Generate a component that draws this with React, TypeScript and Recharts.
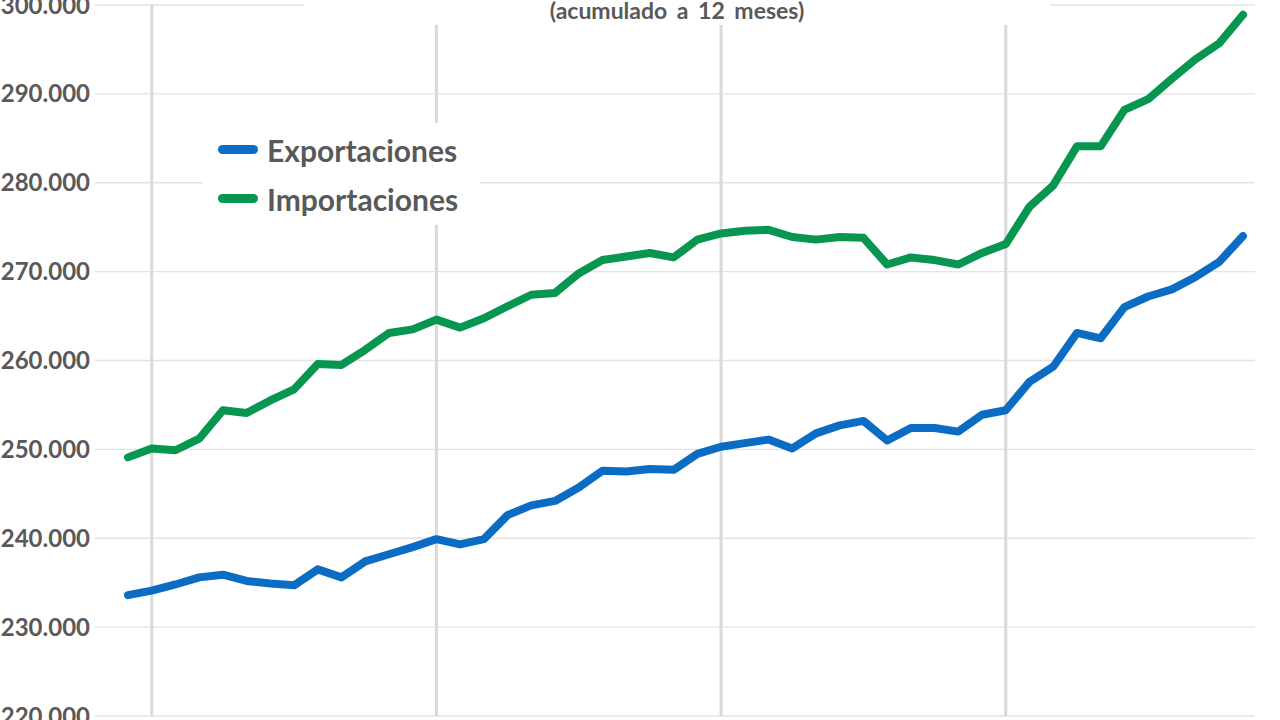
import { LineChart, Line, XAxis, YAxis, CartesianGrid, ReferenceLine, Legend } from 'recharts'

// meses (sin año visible en el gráfico)
const periods = [
  'dic-0', 'ene-1', 'feb-1', 'mar-1', 'abr-1', 'may-1', 'jun-1', 'jul-1', 'ago-1', 'sep-1', 'oct-1', 'nov-1',
  'dic-1', 'ene-2', 'feb-2', 'mar-2', 'abr-2', 'may-2', 'jun-2', 'jul-2', 'ago-2', 'sep-2', 'oct-2', 'nov-2',
  'dic-2', 'ene-3', 'feb-3', 'mar-3', 'abr-3', 'may-3', 'jun-3', 'jul-3', 'ago-3', 'sep-3', 'oct-3', 'nov-3',
  'dic-3', 'ene-4', 'feb-4', 'mar-4', 'abr-4', 'may-4', 'jun-4', 'jul-4', 'ago-4', 'sep-4', 'oct-4', 'nov-4',
]

const exportaciones = [
  233600, 234100, 234800, 235600, 235900, 235200, 234900, 234700, 236500, 235600, 237400, 238200,
  239000, 239900, 239300, 239900, 242600, 243700, 244200, 245700, 247600, 247500, 247800, 247700,
  249500, 250300, 250700, 251100, 250100, 251800, 252700, 253200, 251000, 252400, 252400, 252000,
  253900, 254400, 257600, 259300, 263100, 262500, 266000, 267200, 268000, 269400, 271100, 274000,
]

const importaciones = [
  249100, 250100, 249900, 251200, 254400, 254100, 255500, 256750, 259600, 259500, 261200, 263100,
  263500, 264600, 263700, 264750, 266100, 267400, 267600, 269800, 271300, 271700, 272100, 271600,
  273600, 274300, 274600, 274700, 273900, 273600, 273900, 273800, 270800, 271600, 271300, 270800,
  272100, 273100, 277300, 279700, 284100, 284100, 288200, 289400, 291700, 293900, 295700, 298900,
]

const yTicks = [220000, 230000, 240000, 250000, 260000, 270000, 280000, 290000, 300000]
const yearMarks = ['ene-1', 'ene-2', 'ene-3', 'ene-4']

const BLUE = '#0b6cc4'
const GREEN = '#07964f'
const TEXT = '#595959'
const FONT = 'Lato, "Open Sans", sans-serif'

const data = periods.map((p, i) => ({ p, exp: exportaciones[i], imp: importaciones[i] }))

const fmt = (v: number) => String(v).replace(/\B(?=(\d{3})+(?!\d))/g, '.')

const LegendBox = () => (
  <div style={{ background: '#fff', width: '100%', height: '100%', boxSizing: 'border-box', paddingTop: 2 }}>
    {[
      { name: 'Exportaciones', color: BLUE },
      { name: 'Importaciones', color: GREEN },
    ].map((it) => (
      <div key={it.name} style={{ display: 'flex', alignItems: 'center', height: 49 }}>
        <span style={{ display: 'inline-block', width: 40, height: 9, borderRadius: 5, background: it.color, marginLeft: 15, marginRight: 9, flexShrink: 0 }} />
        <span style={{ fontFamily: FONT, fontWeight: 700, fontSize: 30, color: TEXT, whiteSpace: 'nowrap' }}>{it.name}</span>
      </div>
    ))}
  </div>
)

export default function App() {
  return (
    <div style={{ position: 'absolute', left: 0, top: 0, width: 1280, height: 720, background: '#fff', overflow: 'hidden' }}>
      <LineChart width={1280} height={720} data={data} margin={{ top: 5, right: 25, bottom: 4, left: 0 }}>
        <CartesianGrid vertical={false} stroke="#e3e3e3" strokeWidth={1.3} />
        <XAxis dataKey="p" hide padding={{ left: 33, right: 12 }} />
        <YAxis
          width={95}
          domain={[220000, 300000]}
          ticks={yTicks}
          interval={0}
          tickFormatter={fmt}
          axisLine={false}
          tickLine={false}
          tickSize={0}
          tickMargin={5}
          tick={{ fill: TEXT, fontSize: 24, fontWeight: 700, fontFamily: FONT }}
        />
        {yearMarks.map((m) => (
          <ReferenceLine key={m} x={m} stroke="#d9d9d9" strokeWidth={3} />
        ))}
        <Legend
          layout="horizontal"
          verticalAlign="middle"
          align="center"
          content={<LegendBox />}
          wrapperStyle={{ left: 203, top: 123, width: 277, height: 102 }}
        />
        <Line type="linear" dataKey="exp" name="Exportaciones" stroke={BLUE} strokeWidth={8} dot={false} strokeLinejoin="round" strokeLinecap="round" isAnimationActive={false} />
        <Line type="linear" dataKey="imp" name="Importaciones" stroke={GREEN} strokeWidth={8} dot={false} strokeLinejoin="round" strokeLinecap="round" isAnimationActive={false} />
      </LineChart>
      <div
        style={{
          position: 'absolute', left: 304, top: 0, width: 746, height: 25, background: '#fff',
          textAlign: 'center', fontFamily: FONT, fontWeight: 700, fontSize: 23, color: TEXT,
          lineHeight: '20px', wordSpacing: 4,
        }}
      >
        (acumulado a 12 meses)
      </div>
    </div>
  )
}
